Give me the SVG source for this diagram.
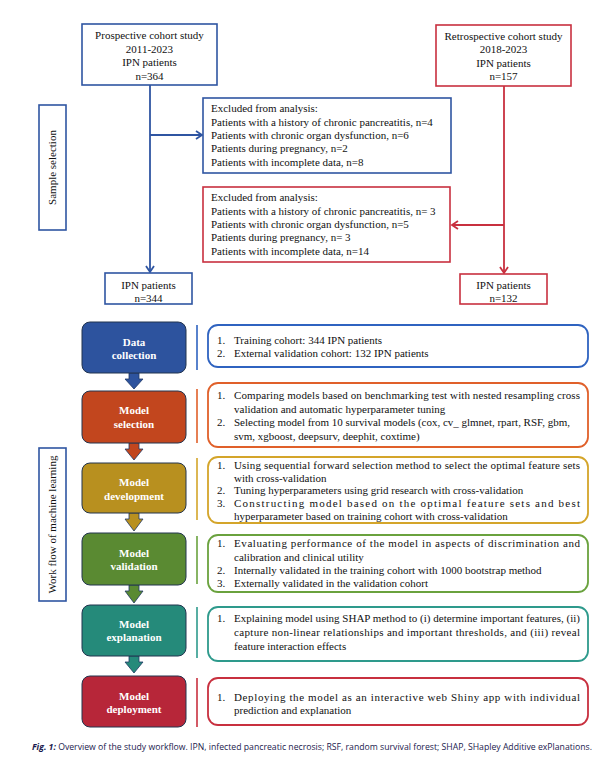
<svg xmlns="http://www.w3.org/2000/svg" width="609" height="761" viewBox="0 0 609 761">
<defs>
<style>
.t{font-family:"Liberation Serif","Times New Roman",serif;font-size:11px;fill:#111}
.c{text-anchor:middle}
.w{font-family:"Liberation Serif","Times New Roman",serif;font-size:11px;font-weight:bold;fill:#fff;text-anchor:middle}
.bl{fill:#fff;stroke:#2F55A2;stroke-width:1.6}
.rd{fill:#fff;stroke:#C8303F;stroke-width:1.6}
.stage{stroke:#22344F;stroke-width:1}
.rb{fill:#fff;stroke-width:1.8}
.sep{stroke-width:1.6}
.cap{font-family:"Open Sans","Noto Sans",sans-serif;font-size:8.6px;fill:#1A1A4E}
</style>
<marker id="ab" markerWidth="10" markerHeight="10" refX="8" refY="5" orient="auto" markerUnits="userSpaceOnUse">
<path d="M2,1 L8,5 L2,9" fill="none" stroke="#2F55A2" stroke-width="1.8"/>
</marker>
<marker id="ar" markerWidth="10" markerHeight="10" refX="8" refY="5" orient="auto" markerUnits="userSpaceOnUse">
<path d="M2,1 L8,5 L2,9" fill="none" stroke="#C8303F" stroke-width="1.8"/>
</marker>
</defs>
<rect width="609" height="761" fill="#fff"/>

<g id="connectors">
<line x1="150" y1="85" x2="150" y2="272" stroke="#2F55A2" stroke-width="1.8" marker-end="url(#ab)"/>
<line x1="150" y1="135" x2="202" y2="135" stroke="#2F55A2" stroke-width="1.8" marker-end="url(#ab)"/>
<line x1="504" y1="86" x2="504" y2="273" stroke="#C8303F" stroke-width="1.8" marker-end="url(#ar)"/>
<line x1="504" y1="225" x2="452" y2="225" stroke="#C8303F" stroke-width="1.8" marker-end="url(#ar)"/>
<path d="M129,373 V379 H125 L134,389 L143,379 H139 V373 Z" fill="#2D539E" stroke="#1F3864" stroke-width="0.8"/>
<path d="M129,443 V449 H125 L134,460 L143,449 H139 V443 Z" fill="#C2461E" stroke="#1F3864" stroke-width="0.8"/>
<path d="M129,513 V519 H125 L134,531 L143,519 H139 V513 Z" fill="#B8901F" stroke="#1F3864" stroke-width="0.8"/>
<path d="M129,585 V591 H125 L134,603 L143,591 H139 V585 Z" fill="#5A8A32" stroke="#1F3864" stroke-width="0.8"/>
<path d="M129,656 V662 H125 L134,673 L143,662 H139 V656 Z" fill="#258A7A" stroke="#1F3864" stroke-width="0.8"/>
</g>

<g id="label-sample">
<rect x="39" y="105" width="27" height="125" class="bl"/>
<text class="t c" transform="translate(56,167.5) rotate(-90)">Sample selection</text>
</g>
<g id="label-workflow">
<rect x="39" y="448" width="27" height="153" class="bl"/>
<text class="t c" transform="translate(56,524.5) rotate(-90)">Work flow of machine learning</text>
</g>

<g id="prospective">
<rect x="82" y="24" width="135" height="61" class="bl"/>
<text class="t c" x="149.5" y="39">Prospective cohort study</text>
<text class="t c" x="149.5" y="52.5">2011-2023</text>
<text class="t c" x="149.5" y="66">IPN patients</text>
<text class="t c" x="149.5" y="79.5">n=364</text>
</g>
<g id="retrospective">
<rect x="436" y="25" width="135" height="61" class="rd"/>
<text class="t c" x="503.5" y="40">Retrospective cohort study</text>
<text class="t c" x="503.5" y="53">2018-2023</text>
<text class="t c" x="503.5" y="66.5">IPN patients</text>
<text class="t c" x="503.5" y="80">n=157</text>
</g>
<g id="excluded-prospective">
<rect x="203" y="98" width="248" height="75" class="bl"/>
<text class="t" x="211" y="112">Excluded from analysis:</text>
<text class="t" x="211" y="125.5">Patients with a history of chronic pancreatitis, n=4</text>
<text class="t" x="211" y="139">Patients with chronic organ dysfunction, n=6</text>
<text class="t" x="211" y="152">Patients during pregnancy, n=2</text>
<text class="t" x="211" y="165.5">Patients with incomplete data, n=8</text>
</g>
<g id="excluded-retrospective">
<rect x="203" y="187" width="247" height="75" class="rd"/>
<text class="t" x="211" y="201">Excluded from analysis:</text>
<text class="t" x="211" y="214.5">Patients with a history of chronic pancreatitis, n= 3</text>
<text class="t" x="211" y="228">Patients with chronic organ dysfunction, n=5</text>
<text class="t" x="211" y="241">Patients during pregnancy, n= 3</text>
<text class="t" x="211" y="254.5">Patients with incomplete data, n=14</text>
</g>
<g id="ipn-344">
<rect x="105" y="273" width="87" height="31" class="bl"/>
<text class="t c" x="148.5" y="288.5">IPN patients</text>
<text class="t c" x="148.5" y="301.5">n=344</text>
</g>
<g id="ipn-132">
<rect x="460" y="274" width="87" height="30" class="rd"/>
<text class="t c" x="503.5" y="289">IPN patients</text>
<text class="t c" x="503.5" y="302">n=132</text>
</g>

<g id="data-collection">
<rect x="82" y="322" width="104" height="51" rx="8" fill="#2D539E" class="stage"/>
<text class="w" x="134" y="346">Data</text>
<text class="w" x="134" y="359">collection</text>
<line x1="197" y1="325" x2="197" y2="370" stroke="#2F63C0" class="sep"/>
<rect x="208" y="325" width="380" height="42" rx="10" stroke="#2F63C0" class="rb"/>
<text class="t" x="217" y="344">1.</text><text class="t" x="234" y="344">Training cohort: 344 IPN patients</text>
<text class="t" x="217" y="357">2.</text><text class="t" x="234" y="357">External validation cohort: 132 IPN patients</text>
</g>

<g id="model-selection">
<rect x="82" y="391" width="104" height="52" rx="8" fill="#C2461E" class="stage"/>
<text class="w" x="134" y="414">Model</text>
<text class="w" x="134" y="428">selection</text>
<line x1="197" y1="389" x2="197" y2="443" stroke="#E0602A" class="sep"/>
<rect x="208" y="383" width="380" height="64" rx="10" stroke="#E0602A" class="rb"/>
<text class="t" x="217" y="399">1.</text><text class="t" x="234" y="399" textLength="346" lengthAdjust="spacing">Comparing models based on benchmarking test with nested resampling cross</text>
<text class="t" x="234" y="413">validation and automatic hyperparameter tuning</text>
<text class="t" x="217" y="426">2.</text><text class="t" x="234" y="426" textLength="336" lengthAdjust="spacing">Selecting model from 10 survival models (cox, cv_ glmnet, rpart, RSF, gbm,</text>
<text class="t" x="234" y="440">svm, xgboost, deepsurv, deephit, coxtime)</text>
</g>

<g id="model-development">
<rect x="82" y="463" width="104" height="50" rx="8" fill="#B8901F" class="stage"/>
<text class="w" x="134" y="486">Model</text>
<text class="w" x="134" y="499.5">development</text>
<line x1="197" y1="458" x2="197" y2="520" stroke="#D4A52A" class="sep"/>
<rect x="208" y="457" width="380" height="66" rx="10" stroke="#D4A52A" class="rb"/>
<text class="t" x="217" y="469">1.</text><text class="t" x="234" y="469" textLength="346" lengthAdjust="spacing">Using sequential forward selection method to select the optimal feature sets</text>
<text class="t" x="234" y="481.5">with cross-validation</text>
<text class="t" x="217" y="494">2.</text><text class="t" x="234" y="494">Tuning hyperparameters using grid research with cross-validation</text>
<text class="t" x="217" y="507">3.</text><text class="t" x="234" y="507" textLength="346" lengthAdjust="spacing">Constructing model based on the optimal feature sets and best</text>
<text class="t" x="234" y="520">hyperparameter based on training cohort with cross-validation</text>
</g>

<g id="model-validation">
<rect x="82" y="533" width="104" height="52" rx="8" fill="#5A8A32" class="stage"/>
<text class="w" x="134" y="557">Model</text>
<text class="w" x="134" y="570">validation</text>
<line x1="197" y1="536" x2="197" y2="584" stroke="#6AA23E" class="sep"/>
<rect x="208" y="535" width="380" height="57" rx="10" stroke="#6AA23E" class="rb"/>
<text class="t" x="217" y="547">1.</text><text class="t" x="234" y="547" textLength="346" lengthAdjust="spacing">Evaluating performance of the model in aspects of discrimination and</text>
<text class="t" x="234" y="561">calibration and clinical utility</text>
<text class="t" x="217" y="574">2.</text><text class="t" x="234" y="574">Internally validated in the training cohort with 1000 bootstrap method</text>
<text class="t" x="217" y="587">3.</text><text class="t" x="234" y="587">Externally validated in the validation cohort</text>
</g>

<g id="model-explanation">
<rect x="82" y="605" width="104" height="51" rx="8" fill="#258A7A" class="stage"/>
<text class="w" x="134" y="628">Model</text>
<text class="w" x="134" y="641">explanation</text>
<line x1="197" y1="607" x2="197" y2="658" stroke="#2E9A8C" class="sep"/>
<rect x="208" y="607" width="380" height="54" rx="10" stroke="#2E9A8C" class="rb"/>
<text class="t" x="217" y="622">1.</text><text class="t" x="234" y="622" textLength="346" lengthAdjust="spacing">Explaining model using SHAP method to (i) determine important features, (ii)</text>
<text class="t" x="234" y="636" textLength="346" lengthAdjust="spacing">capture non-linear relationships and important thresholds, and (iii) reveal</text>
<text class="t" x="234" y="650">feature interaction effects</text>
</g>

<g id="model-deployment">
<rect x="82" y="676" width="104" height="51" rx="8" fill="#B72639" class="stage"/>
<text class="w" x="134" y="700">Model</text>
<text class="w" x="134" y="713">deployment</text>
<line x1="197" y1="678" x2="197" y2="727" stroke="#C8303F" class="sep"/>
<rect x="208" y="678" width="380" height="47" rx="10" stroke="#C8303F" class="rb"/>
<text class="t" x="217" y="701">1.</text><text class="t" x="234" y="701" textLength="346" lengthAdjust="spacing">Deploying the model as an interactive web Shiny app with individual</text>
<text class="t" x="234" y="714">prediction and explanation</text>
</g>

<text class="cap" x="32" y="750" textLength="560" lengthAdjust="spacingAndGlyphs"><tspan font-weight="bold" font-style="italic">Fig. 1:</tspan> Overview of the study workflow. IPN, infected pancreatic necrosis; RSF, random survival forest; SHAP, SHapley Additive exPlanations.</text>
</svg>
